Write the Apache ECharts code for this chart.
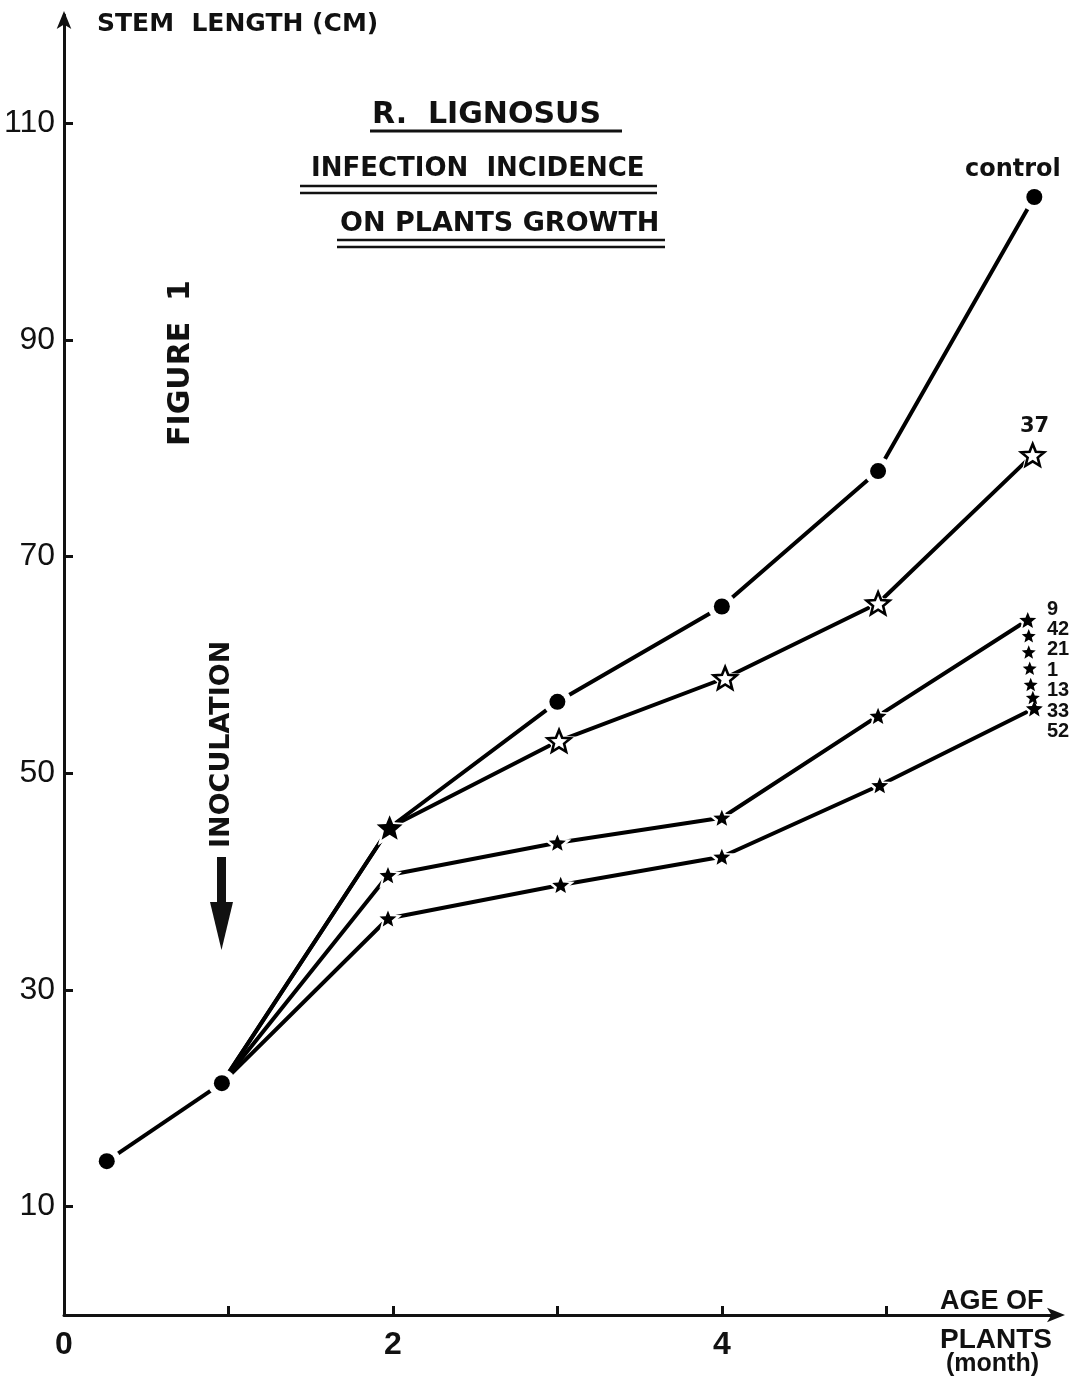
<!DOCTYPE html>
<html><head><meta charset="utf-8">
<script src="https://cdn.jsdelivr.net/npm/echarts@6/dist/echarts.min.js"></script>
<style>html,body{margin:0;padding:0;background:#fff}#c{width:1069px;height:1381px}</style>
</head><body><div id="c"></div>
<script>
// ---- data (month, stem length cm) ----
const commonPts   = [[0.26, 14.2], [0.96, 21.4]];
const controlPts  = [[0.96, 21.4], [1.98, 45.0], [3.0, 56.6], [4.0, 65.4], [4.95, 77.9], [5.9, 103.2]];
const strain37Pts = [[0.96, 21.4], [1.98, 45.0], [3.01, 53.0], [4.02, 58.8], [4.95, 65.7], [5.89, 79.4]];
const upperStarPts = [[0.96, 21.4], [1.97, 40.6], [3.0, 43.6], [4.0, 45.9], [4.95, 55.3], [5.86, 64.15]];
const lowerStarPts = [[0.96, 21.4], [1.97, 36.6], [3.02, 39.7], [4.0, 42.3], [4.96, 48.9], [5.9, 56.0]];
const strainNames  = ['9', '42', '21', '1', '13', '33', '52'];
const strainFinalX = [5.86, 5.866, 5.866, 5.872, 5.878, 5.891, 5.9];
const strainFinalY = [64.15, 62.7, 61.2, 59.7, 58.2, 57.0, 56.0];
const yTickValues = [10, 30, 50, 70, 90, 110];
const xTickValues = [1, 2, 3, 4, 5];
const xLabelValues = [0, 2, 4];

const STAR = 'path://M50,0 L62.9,32.2 L97.6,34.5 L70.9,56.8 L79.4,90.5 L50,72 L20.6,90.5 L29.1,56.8 L2.4,34.5 L37.1,32.2 Z';
const F = 'DejaVu Sans';
const L = 'Liberation Sans';

function lineSeries(data) {
  return { type: 'line', data: data, z: 2, showSymbol: false, symbol: 'none', silent: true,
    lineStyle: { color: '#000', width: 4 }, animation: false };
}
function pts(data, skipFirst) { return skipFirst ? data.slice(1) : data; }
function scatter(data, symbol, size, fill, stroke, bw, z) {
  return { type: 'scatter', data: data, symbol: symbol, symbolSize: size, symbolKeepAspect: true, z: z,
    silent: true, animation: false,
    itemStyle: { color: fill, borderColor: stroke, borderWidth: bw, opacity: 1 } };
}

const controlMarkers = pts(controlPts, true).map((p, i) =>
  i === 0 ? { value: p, symbol: STAR, symbolSize: 26 } : { value: p });
const controlHalos = pts(controlPts, true).map((p, i) =>
  i === 0 ? { value: p, symbol: STAR, symbolSize: 38 } : { value: p });
const s37 = pts(strain37Pts, true).slice(1);
const strainCol = strainFinalX.map((x, i) => [x, strainFinalY[i]]);

const series = [
  lineSeries(commonPts), lineSeries(controlPts), lineSeries(strain37Pts),
  lineSeries(upperStarPts), lineSeries(lowerStarPts),
  // halos (white gaps around markers)
  scatter(commonPts, 'circle', 28, '#fff', '#fff', 0, 3),
  scatter(controlHalos, 'circle', 28, '#fff', '#fff', 0, 3),
  scatter(s37, STAR, 36, '#fff', '#fff', 0, 3),
  scatter(pts(upperStarPts, true), STAR, 28, '#fff', '#fff', 0, 3),
  scatter(pts(lowerStarPts, true), STAR, 28, '#fff', '#fff', 0, 3),
  // markers
  scatter(commonPts, 'circle', 16, '#000', '#000', 0, 5),
  scatter(controlMarkers, 'circle', 16, '#000', '#000', 0, 5),
  scatter(s37, STAR, 23, '#fff', '#000', 2.6, 5),
  scatter(pts(upperStarPts, true), STAR, 17, '#000', '#000', 0, 5),
  scatter(pts(lowerStarPts, true), STAR, 17, '#000', '#000', 0, 5),
  scatter(strainCol, STAR, 14, '#000', '#000', 0, 6)
];

const txt = (o) => ({ type: 'text', z: 10, silent: true, style: Object.assign({ fill: '#111' }, o) });
const hline = (x1, x2, y, w) => ({ type: 'line', z: 10, silent: true,
  shape: { x1: x1, y1: y, x2: x2, y2: y }, style: { stroke: '#111', lineWidth: w } });

const graphic = [
  txt({ text: 'STEM  LENGTH (CM)', x: 97, y: 12, font: 'bold 25px "' + F + '"' }),
  txt({ text: 'R.  LIGNOSUS', x: 372, y: 100, font: 'bold 30px "' + F + '"' }),
  hline(370, 622, 131, 3),
  txt({ text: 'INFECTION  INCIDENCE', x: 311, y: 156, font: 'bold 26px "' + F + '"' }),
  hline(300, 657, 186, 2.5), hline(300, 657, 193, 2.5),
  txt({ text: 'ON PLANTS GROWTH', x: 340, y: 210, font: 'bold 27px "' + F + '"' }),
  hline(337, 665, 240, 2.5), hline(337, 665, 247, 2.5),
  { type: 'text', z: 10, silent: true, x: 166, y: 446, rotation: Math.PI / 2,
    style: { text: 'FIGURE  1', font: 'bold 30px "' + F + '"', fill: '#111' } },
  { type: 'text', z: 10, silent: true, x: 208, y: 848, rotation: Math.PI / 2,
    style: { text: 'INOCULATION', font: 'bold 27px "' + F + '"', fill: '#111' } },
  { type: 'rect', z: 10, silent: true, shape: { x: 217, y: 857, width: 9, height: 50 }, style: { fill: '#111' } },
  { type: 'polygon', z: 10, silent: true, shape: { points: [[210, 902], [233, 902], [221.5, 950]] }, style: { fill: '#111' } },
  txt({ text: 'control', x: 965, y: 158, font: 'bold 24px "' + F + '"' }),
  txt({ text: '37', x: 1020, y: 416, font: 'bold 21px "' + F + '"' }),
  txt({ text: 'AGE OF', x: 940, y: 1288, font: 'bold 27px "' + L + '"' }),
  txt({ text: 'PLANTS', x: 940, y: 1326, font: 'bold 28px "' + L + '"' }),
  txt({ text: '(month)', x: 946, y: 1352, font: 'bold 25px "' + L + '"' })
].concat(strainNames.map((n, i) =>
  txt({ text: n, x: 1047, y: 599 + i * 20.4, font: 'bold 20px "' + L + '"' })));

const chart = echarts.init(document.getElementById('c'), null, { renderer: 'canvas' });
chart.setOption({
  backgroundColor: '#fff',
  animation: false,
  grid: { left: 64, right: 10, top: 15, bottom: 66, containLabel: false },
  xAxis: {
    type: 'value', min: 0, max: 6.05, interval: 1,
    splitLine: { show: false },
    axisLine: { show: true, onZero: false, symbol: ['none', 'arrow'], symbolSize: [11, 18], symbolOffset: [0, 6],
      lineStyle: { color: '#111', width: 3 } },
    axisTick: { show: true, inside: true, length: 9, customValues: xTickValues, lineStyle: { color: '#111', width: 3 } },
    axisLabel: { show: true, customValues: xLabelValues, margin: 14, color: '#111',
      fontFamily: L, fontWeight: 'bold', fontSize: 32 }
  },
  yAxis: {
    type: 'value', min: 0, max: 120, interval: 10,
    splitLine: { show: false },
    axisLine: { show: true, onZero: false, symbol: ['none', 'arrow'], symbolSize: [11, 18], symbolOffset: [0, 4],
      lineStyle: { color: '#111', width: 3 } },
    axisTick: { show: true, inside: true, length: 9, customValues: yTickValues, lineStyle: { color: '#111', width: 3 } },
    axisLabel: { show: true, customValues: yTickValues, margin: 9, color: '#111',
      fontFamily: L, fontSize: 32 }
  },
  graphic: graphic,
  series: series
});
</script>
</body></html>
